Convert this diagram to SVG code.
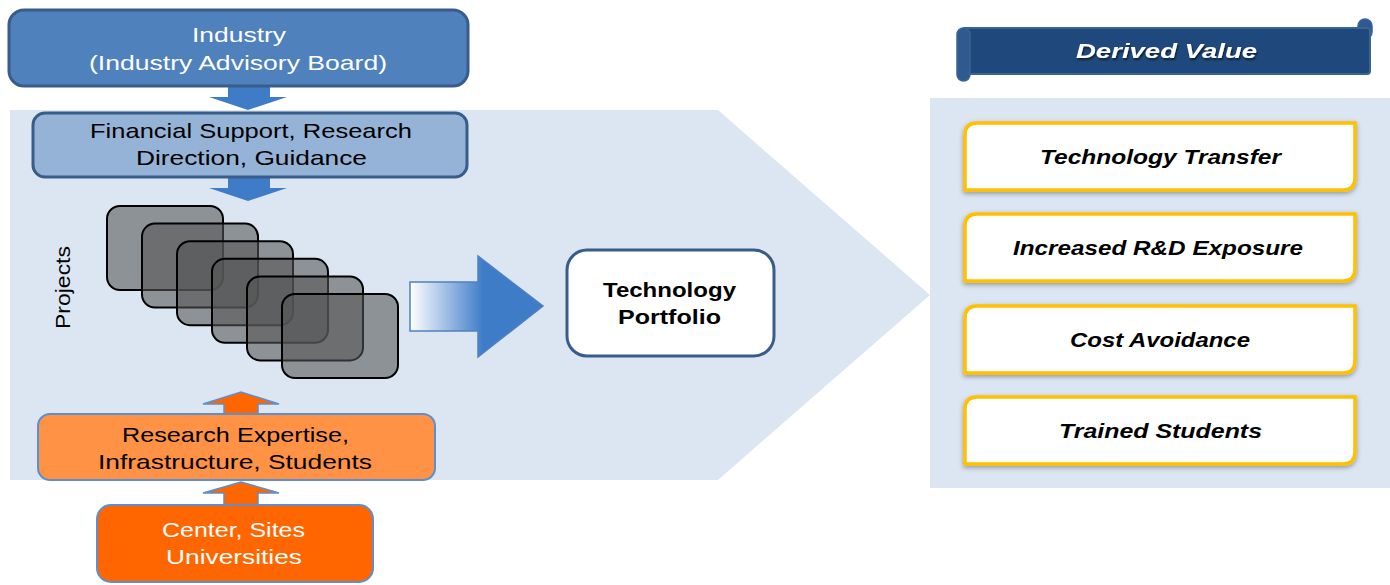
<svg xmlns="http://www.w3.org/2000/svg" width="1390" height="585" viewBox="0 0 1390 585">
<defs>
<style>
.t{font-family:"Liberation Sans",Arial,sans-serif;font-size:21px}
.w{fill:#fff}
.k{fill:#000}
.b{font-weight:bold}
.bi{font-weight:bold;font-style:italic}
.proj{fill:#555;fill-opacity:0.58;stroke:#000;stroke-width:2}
.val{fill:#fff;stroke:#FFC000;stroke-width:3.5;filter:url(#sh)}
.darr{fill:#3F7CC8;stroke:none}
.oarr{fill:#FF6600;stroke:#5B8FD0;stroke-width:1.5}
</style>
<linearGradient id="g" x1="0" y1="0" x2="1" y2="0">
<stop offset="0" stop-color="#ffffff"/>
<stop offset="0.55" stop-color="#3F7CC8"/>
<stop offset="1" stop-color="#3F7CC8"/>
</linearGradient>
<filter id="sh" x="-5%" y="-10%" width="110%" height="130%">
<feDropShadow dx="0" dy="2" stdDeviation="2.5" flood-color="#000" flood-opacity="0.35"/>
</filter>
<filter id="ts" x="-5%" y="-20%" width="110%" height="150%">
<feDropShadow dx="1" dy="2" stdDeviation="1.2" flood-color="#000" flood-opacity="0.6"/>
</filter>
</defs>
<rect width="1390" height="585" fill="#fff"/>
<g id="background">
<path d="M10,110 H718 L930,295 L718,480 H10 Z" fill="#DCE6F2"/>
<rect x="930" y="98" width="460" height="390" fill="#DCE6F2"/>
</g>
<g id="connectors">
<path class="darr" d="M228,86 H270 V97 H287 L248,110 L209,97 H228 Z"/>
<path class="darr" d="M228,177 H270 V188 H287 L248,201 L209,188 H228 Z"/>
<path class="oarr" d="M224,415 V404 H203 L241,392 L279,404 H258 V415 Z"/>
<path class="oarr" d="M224,505 V493 H203 L241,482 L279,493 H258 V505 Z"/>
<path d="M410,282 H478 V256 L543,306 L478,357 V331 H410 Z" fill="url(#g)" stroke="#4F81BD" stroke-width="1.5"/>
</g>
<g id="industry">
<rect x="9" y="10" width="459" height="76" rx="15" fill="#4F81BD" stroke="#385D8A" stroke-width="3"/>
<text class="t w" x="192" y="42" textLength="94" lengthAdjust="spacingAndGlyphs">Industry</text>
<text class="t w" x="89" y="70" textLength="298" lengthAdjust="spacingAndGlyphs">(Industry Advisory Board)</text>
</g>
<g id="financial">
<rect x="33" y="113" width="434" height="64" rx="12" fill="#95B3D7" stroke="#385D8A" stroke-width="3"/>
<text class="t k" x="90" y="138" textLength="322" lengthAdjust="spacingAndGlyphs">Financial Support, Research</text>
<text class="t k" x="136" y="165" textLength="231" lengthAdjust="spacingAndGlyphs">Direction, Guidance</text>
</g>
<g id="projects">
<rect class="proj" x="107" y="206" width="116" height="84" rx="13"/>
<rect class="proj" x="142" y="223.6" width="116" height="84" rx="13"/>
<rect class="proj" x="177" y="241.2" width="116" height="84" rx="13"/>
<rect class="proj" x="212" y="258.8" width="116" height="84" rx="13"/>
<rect class="proj" x="247" y="276.4" width="116" height="84" rx="13"/>
<rect class="proj" x="282" y="294" width="116" height="84" rx="13"/>
<text class="t k" transform="translate(70,329) rotate(-90)" x="0" y="0" style="font-size:20px" textLength="83" lengthAdjust="spacingAndGlyphs">Projects</text>
</g>
<g id="portfolio">
<rect x="567" y="250" width="207" height="106" rx="20" fill="#fff" stroke="#385D8A" stroke-width="3"/>
<text class="t k b" x="603" y="297" textLength="133" lengthAdjust="spacingAndGlyphs">Technology</text>
<text class="t k b" x="618" y="324" textLength="103" lengthAdjust="spacingAndGlyphs">Portfolio</text>
</g>
<g id="research">
<rect x="38" y="414" width="397" height="66" rx="12" fill="#FF9244" stroke="#5B8FD0" stroke-width="2"/>
<text class="t k" x="122" y="442" textLength="227" lengthAdjust="spacingAndGlyphs">Research Expertise,</text>
<text class="t k" x="98" y="469" textLength="274" lengthAdjust="spacingAndGlyphs">Infrastructure, Students</text>
</g>
<g id="center">
<rect x="97" y="505" width="276" height="77" rx="14" fill="#FF6600" stroke="#5B8FD0" stroke-width="2"/>
<text class="t w" x="162" y="537" textLength="143" lengthAdjust="spacingAndGlyphs">Center, Sites</text>
<text class="t w" x="166" y="564" textLength="136" lengthAdjust="spacingAndGlyphs">Universities</text>
</g>
<g id="derived-value">
<rect x="1358" y="19" width="14" height="20" rx="7" fill="#2E5A90" stroke="#3A6496" stroke-width="1.5"/>
<rect x="962" y="28" width="408" height="46" rx="3" fill="#1F497D" stroke="#3A6496" stroke-width="2"/>
<rect x="957" y="28" width="13" height="53" rx="6.5" fill="#2E5A90" stroke="#3A6496" stroke-width="1.5"/>
<text class="t w bi" x="1076" y="58" filter="url(#ts)" textLength="181" lengthAdjust="spacingAndGlyphs">Derived Value</text>
</g>
<g id="tech-transfer">
<path class="val" d="M977,123 H1355 V178 Q1355,190 1343,190 H965 V135 Q965,123 977,123 Z"/>
<text class="t k bi" x="1040" y="164" textLength="241" lengthAdjust="spacingAndGlyphs">Technology Transfer</text>
</g>
<g id="rd-exposure">
<path class="val" d="M977,214 H1355 V269 Q1355,281 1343,281 H965 V226 Q965,214 977,214 Z"/>
<text class="t k bi" x="1013" y="255" textLength="290" lengthAdjust="spacingAndGlyphs">Increased R&amp;D Exposure</text>
</g>
<g id="cost-avoidance">
<path class="val" d="M977,306 H1355 V361 Q1355,373 1343,373 H965 V318 Q965,306 977,306 Z"/>
<text class="t k bi" x="1070" y="347" textLength="180" lengthAdjust="spacingAndGlyphs">Cost Avoidance</text>
</g>
<g id="trained-students">
<path class="val" d="M977,397 H1355 V452 Q1355,464 1343,464 H965 V409 Q965,397 977,397 Z"/>
<text class="t k bi" x="1059" y="438" textLength="203" lengthAdjust="spacingAndGlyphs">Trained Students</text>
</g>
</svg>
